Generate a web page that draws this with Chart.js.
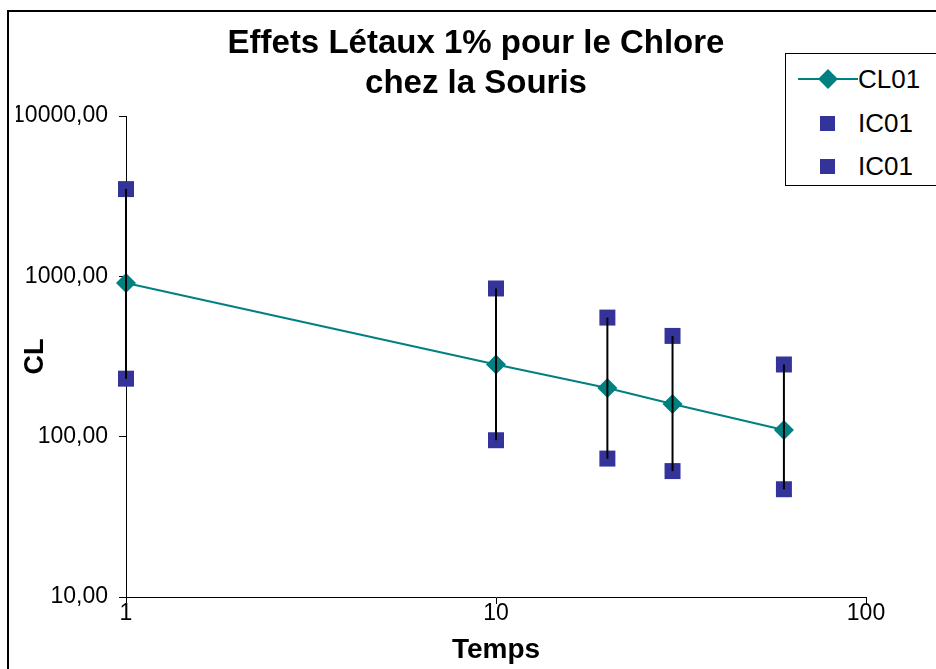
<!DOCTYPE html>
<html>
<head>
<meta charset="utf-8">
<script src="https://cdn.jsdelivr.net/npm/chart.js@4/dist/chart.umd.min.js"></script>
<style>
  body { margin: 0; background: #fff; font-family: "Liberation Sans", Arial, sans-serif; }
  #frame { position: absolute; left: 7px; top: 10px; width: 1000px; height: 700px; border: 2px solid #000; }
  #chart { position: absolute; left: 0; top: 0; }
  #legend { position: absolute; left: 785px; top: 53px; width: 200px; height: 131px; border: 1px solid #000; background: #fff; }
  .row { position: absolute; left: 0; height: 30px; width: 190px; }
  .row .txt { position: absolute; left: 72px; top: 0; font-size: 26px; line-height: 30px; color: #000; }
  .ln { position: absolute; left: 12px; top: 14px; width: 60px; height: 2px; background: #008080; }
  .dia { position: absolute; left: 35px; top: 8px; width: 14px; height: 14px; background: #008080; transform: rotate(45deg); }
  .sq { position: absolute; left: 34px; top: 8px; width: 15px; height: 15px; background: #333399; }
</style>
</head>
<body>
<div id="frame"></div>
<canvas id="chart" width="936" height="669"></canvas>
<div id="legend">
  <div class="row" style="top:10px"><span class="ln"></span><span class="dia"></span><span class="txt">CL01</span></div>
  <div class="row" style="top:54px"><span class="sq"></span><span class="txt">IC01</span></div>
  <div class="row" style="top:97px"><span class="sq"></span><span class="txt">IC01</span></div>
</div>
<script>
// Data
const times = [1, 10, 20, 30, 60];
const cl01 = [910, 282, 201, 160, 110];
const icHigh = [3500, 840, 553, 425, 282];
const icLow = [230, 95, 73, 61, 47];

const xTicks = [1, 10, 100];
const xTickLabels = ['1', '10', '100'];
const yTicks = [10, 100, 1000, 10000];
const yTickLabels = ['10,00', '100,00', '1000,00', '10000,00'];

const FONT = '"Liberation Sans", Arial, sans-serif';

// Error bars: one little line per time, from low to high
const errorSets = times.map((t, i) => ({
  label: 'err' + i,
  data: [{ x: t, y: icLow[i] }, { x: t, y: icHigh[i] }],
  showLine: true,
  borderColor: '#000',
  borderWidth: 2,
  pointRadius: 0,
  clip: false,
  order: 0
}));

const ctx = document.getElementById('chart').getContext('2d');
new Chart(ctx, {
  type: 'scatter',
  data: {
    datasets: [
      ...errorSets,
      {
        label: 'CL01',
        data: times.map((t, i) => ({ x: t, y: cl01[i] })),
        showLine: true,
        borderColor: '#008080',
        borderWidth: 2,
        backgroundColor: '#008080',
        pointStyle: 'rectRot',
        pointRadius: 10,
        pointBorderWidth: 0,
        tension: 0,
        clip: false,
        order: 1
      },
      {
        label: 'IC01',
        data: times.map((t, i) => ({ x: t, y: icHigh[i] })),
        backgroundColor: '#333399',
        borderColor: '#333399',
        pointStyle: 'rect',
        pointRadius: 11.3,
        pointBorderWidth: 0,
        clip: false,
        order: 2
      },
      {
        label: 'IC01',
        data: times.map((t, i) => ({ x: t, y: icLow[i] })),
        backgroundColor: '#333399',
        borderColor: '#333399',
        pointStyle: 'rect',
        pointRadius: 11.3,
        pointBorderWidth: 0,
        clip: false,
        order: 2
      }
    ]
  },
  options: {
    responsive: false,
    animation: false,
    layout: { padding: { left: 16, top: 24, right: 0, bottom: 0 } },
    plugins: {
      legend: { display: false },
      tooltip: { enabled: false },
      title: {
        display: true,
        text: ['Effets Létaux 1% pour le Chlore', 'chez la Souris'],
        color: '#000',
        font: { family: FONT, size: 33, weight: 'bold', lineHeight: 40 / 33 },
        padding: { top: 0, bottom: 12 }
      }
    },
    scales: {
      x: {
        type: 'logarithmic',
        min: 1,
        max: 100,
        afterBuildTicks: s => { s.ticks = xTicks.map(v => ({ value: v })); },
        afterFit: s => { s.height = 72; },
        ticks: {
          color: '#000',
          font: { family: FONT, size: 23 },
          padding: -4,
          maxRotation: 0,
          callback: v => xTickLabels[xTicks.indexOf(v)]
        },
        grid: { display: true, drawOnChartArea: false, drawTicks: true, tickLength: 7, color: '#000' },
        border: { display: true, color: '#000', width: 1 },
        title: {
          display: true,
          text: 'Temps',
          color: '#000',
          font: { family: FONT, size: 28, weight: 'bold' },
          padding: { top: 0, bottom: 2 }
        }
      },
      y: {
        type: 'logarithmic',
        min: 10,
        max: 10000,
        afterBuildTicks: s => { s.ticks = yTicks.map(v => ({ value: v })); },
        afterFit: s => { s.width = 110; },
        ticks: {
          color: '#000',
          font: { family: FONT, size: 23 },
          padding: 11,
          callback: v => yTickLabels[yTicks.indexOf(v)]
        },
        grid: { display: true, drawOnChartArea: false, drawTicks: true, tickLength: 7, color: '#000' },
        border: { display: true, color: '#000', width: 1 },
        title: {
          display: true,
          text: 'CL',
          color: '#000',
          font: { family: FONT, size: 27, weight: 'bold' },
          padding: { top: 3, bottom: 0 }
        }
      },
      // empty axis on the right, only to leave the same margin as the original
      spacer: {
        type: 'linear',
        position: 'right',
        display: true,
        ticks: { display: false },
        grid: { display: false },
        border: { display: false },
        afterFit: s => { s.width = 70; }
      }
    }
  }
});
</script>
</body>
</html>
